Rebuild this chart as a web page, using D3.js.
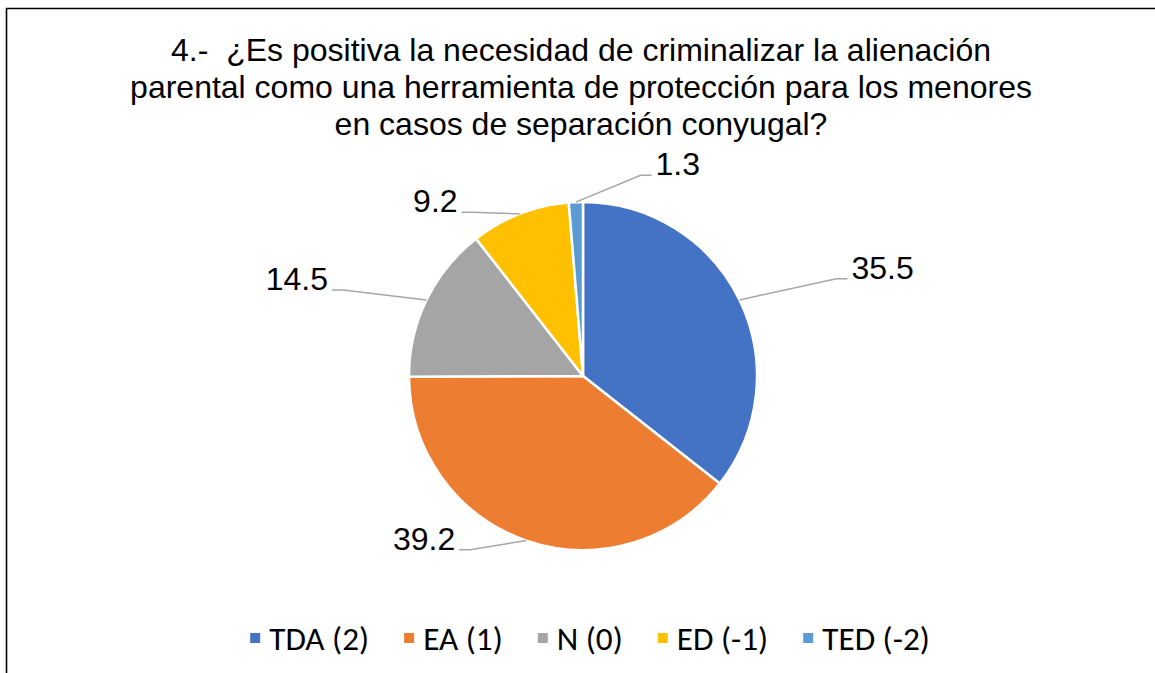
<!DOCTYPE html>
<html>
<head>
<meta charset="utf-8">
<script src="https://cdn.jsdelivr.net/npm/d3@7"></script>
<style>
  body { margin: 0; background: #fff; }
  svg { display: block; }
</style>
</head>
<body>
<div id="chart"></div>
<script>
// data
var categories = ["TDA (2)", "EA (1)", "N (0)", "ED (-1)", "TED (-2)"];
var values = [35.5, 39.2, 14.5, 9.2, 1.3];
var titleLines = [
    "4.-  ¿Es positiva la necesidad de criminalizar la alienación",
    "parental como una herramienta de protección para los menores",
    "en casos de separación conyugal?"
];
var colors = ["#4472C4", "#ED7D31", "#A5A5A5", "#FFC000", "#5B9BD5"];

// where each leader line bends: [angle in degrees, radius factor]
var elbows = [[69, 1.56], [213, 1.19], [289.7, 1.465], [326, 1.135], [16, 1.2]];

var width = 1155, height = 673;
var cx = 583, cy = 376, radius = 174;

var svg = d3.select("#chart")
    .append("svg")
    .attr("width", width)
    .attr("height", height);

// frame of the original screenshot (left and top edges only)
svg.append("path")
    .attr("d", "M6.5," + height + "V8.5H" + width)
    .attr("fill", "none")
    .attr("stroke", "#000")
    .attr("stroke-width", 1.6);

var title = svg.append("text")
    .attr("text-anchor", "middle")
    .attr("font-family", "Liberation Sans, Arial, sans-serif")
    .attr("font-size", 32)
    .style("white-space", "pre")
    .attr("fill", "#000");

title.selectAll("tspan")
    .data(titleLines)
    .enter()
    .append("tspan")
    .attr("x", 581)
    .attr("y", function(d, i) { return 61 + i * 37; })
    .text(function(d) { return d; });

var pie = d3.pie().sort(null).value(function(d) { return d; });
var arcs = pie(values);

var arc = d3.arc().innerRadius(0).outerRadius(radius);

var g = svg.append("g")
    .attr("transform", "translate(" + cx + "," + cy + ")");

g.selectAll("path.slice")
    .data(arcs)
    .enter()
    .append("path")
    .attr("class", "slice")
    .attr("d", arc)
    .attr("fill", function(d, i) { return colors[i]; })
    .attr("stroke", "#fff")
    .attr("stroke-width", 2.5)
    .attr("stroke-linejoin", "round");

function polar(angle, r) {
    return [r * Math.sin(angle), -r * Math.cos(angle)];
}

// leader lines + value labels
arcs.forEach(function(d, i) {
    var mid = (d.startAngle + d.endAngle) / 2;
    var p0 = polar(mid, radius);
    var e = elbows[i];
    var p1 = polar(e[0] * Math.PI / 180, radius * e[1]);
    var right = p1[0] > 0;
    var p2 = [p1[0] + (right ? 11 : -11), p1[1]];

    g.append("polyline")
        .attr("points", [p0, p1, p2].map(function(p) { return p.join(","); }).join(" "))
        .attr("fill", "none")
        .attr("stroke", "#A6A6A6")
        .attr("stroke-width", 1.5);

    g.append("text")
        .attr("x", p2[0] + (right ? 4 : -4))
        .attr("y", p2[1])
        .attr("text-anchor", right ? "start" : "end")
        .attr("font-family", "Liberation Sans, Arial, sans-serif")
        .attr("font-size", 32)
        .attr("fill", "#000")
        .text(d3.format(".1f")(values[i]));
});

// legend
var legend = svg.append("g");
var legendFont = "Carlito, Calibri, Lato, sans-serif";

var probe = legend.append("text")
    .attr("font-family", legendFont)
    .attr("font-size", 28)
    .text(categories[0]);
var legendSize = 28 * 100 / probe.node().getComputedTextLength();
probe.remove();

var items = legend.selectAll("g.item")
    .data(categories)
    .enter()
    .append("g")
    .attr("class", "item");

items.append("rect")
    .attr("width", 10)
    .attr("height", 10)
    .attr("y", -5)
    .attr("fill", function(d, i) { return colors[i]; });

items.append("text")
    .attr("x", 19)
    .attr("dy", "0.35em")
    .attr("font-family", legendFont)
    .attr("font-size", legendSize)
    .attr("fill", "#000")
    .text(function(d) { return d; });

var x = 0, gap = 35;
items.each(function() {
    var w = 19 + d3.select(this).select("text").node().getComputedTextLength();
    d3.select(this).attr("transform", "translate(" + x + ",0)");
    x += w + gap;
});
var total = x - gap;
legend.attr("transform", "translate(" + (590 - total / 2) + ",638)");
</script>
</body>
</html>
